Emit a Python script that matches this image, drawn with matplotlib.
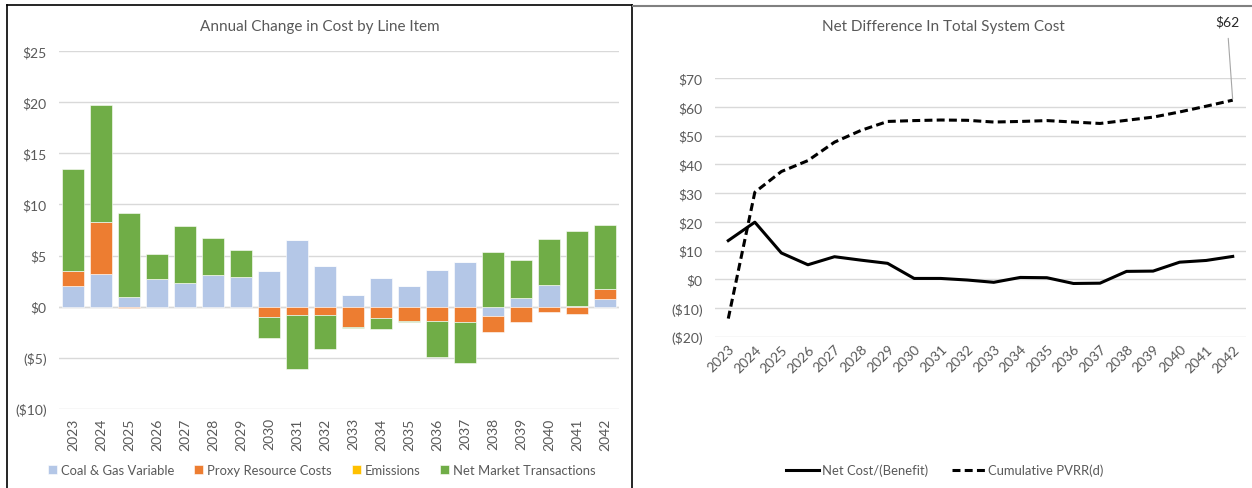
import numpy as np
import matplotlib.pyplot as plt
from matplotlib.lines import Line2D

plt.rcParams['font.family'] = ['Lato', 'DejaVu Sans']

years = [str(y) for y in range(2023, 2043)]

coal_gas = [2.02, 3.16, 0.91, 2.74, 2.35, 3.06, 2.87, 3.45, 6.48, 3.94,
            1.11, 2.83, 2.02, 3.62, 4.33, -0.91, 0.81, 2.15, 0.10, 0.72]
proxy = [1.50, 5.14, -0.15, 0.0, 0.0, 0.0, 0.0, -0.98, -0.78, -0.78,
         -2.02, -1.07, -1.43, -1.40, -1.50, -1.53, -1.50, -0.49, -0.75, 1.04]
emissions = [0.0] * 20
net_market = [9.90, 11.44, 8.21, 2.41, 5.53, 3.68, 2.67, -2.05, -5.28, -3.39,
              -0.10, -1.14, -0.07, -3.55, -3.97, 5.31, 3.72, 4.43, 7.33, 6.25]

net_cost = [13.5, 19.9, 9.2, 5.1, 7.9, 6.7, 5.6, 0.35, 0.35, -0.2,
            -1.0, 0.7, 0.6, -1.4, -1.3, 2.8, 2.9, 6.0, 6.6, 8.0]
cum_pvrr = [-13.6, 30.3, 37.5, 41.3, 47.7, 51.8, 54.9, 55.2, 55.4, 55.3,
            54.7, 54.9, 55.2, 54.7, 54.2, 55.3, 56.4, 58.2, 60.2, 62.3]

W, H = 1252, 489
TXT = '#595959'
GRID = '#D9D9D9'

def box(l, r, t, b):
    return [l / W, 1 - b / H, (r - l) / W, (b - t) / H]

def money(v, pos=None):
    v = int(round(v))
    return f'(${-v})' if v < 0 else f'${v}'

fig = plt.figure(figsize=(W / 100, H / 100), dpi=100)

# ---- left: stacked bars ----
ax1 = fig.add_axes(box(59, 619, 52, 410))
x = np.arange(len(years))
series = [('Coal & Gas Variable', coal_gas, '#B4C7E7'),
          ('Proxy Resource Costs', proxy, '#ED7D31'),
          ('Emissions', emissions, '#FFC000'),
          ('Net Market Transactions', net_market, '#70AD47')]
pos_base = np.zeros(len(years))
neg_base = np.zeros(len(years))
for name, vals, col in series:
    vals = np.array(vals)
    bottom = np.where(vals >= 0, pos_base, neg_base)
    ax1.bar(x, vals, 0.78, bottom=bottom, color=col, label=name,
            edgecolor='white', linewidth=0.4, zorder=3)
    pos_base = pos_base + np.clip(vals, 0, None)
    neg_base = neg_base + np.clip(vals, None, 0)

ax1.set_xlim(-0.5, len(years) - 0.5)
ax1.set_ylim(-10, 25)
ax1.set_yticks(range(-10, 26, 5))
ax1.yaxis.set_major_formatter(plt.FuncFormatter(money))
ax1.set_xticks(x)
ax1.set_xticklabels(years, rotation=90)
ax1.grid(axis='y', color=GRID, linewidth=1, zorder=0)
ax1.axhline(0, color=GRID, linewidth=1, zorder=1)
for s in ax1.spines.values():
    s.set_visible(False)
ax1.tick_params(length=0, colors=TXT, labelsize=10)
ax1.tick_params(axis='y', pad=9)
ax1.tick_params(axis='x', pad=6)
fig.text(320 / W, 1 - 27 / H, 'Annual Change in Cost by Line Item',
         ha='center', va='center', fontsize=11, color=TXT)
ax1.legend(loc='center', bbox_to_anchor=(322 / W, 1 - 471 / H),
           bbox_transform=fig.transFigure, ncol=4, frameon=False,
           fontsize=9.4, labelcolor=TXT, handlelength=0.7, handleheight=0.7,
           handletextpad=0.3, columnspacing=1.5)

# ---- right: lines ----
ax2 = fig.add_axes(box(715, 1246, 79, 338))
ax2.plot(x, net_cost, color='black', linewidth=2.2, label='Net Cost/(Benefit)', zorder=3)
ax2.plot(x, cum_pvrr, color='black', linewidth=2.2, linestyle=(0, (2.6, 1.4)),
         label='Cumulative PVRR(d)', zorder=3)
ax2.set_xlim(-0.5, len(years) - 0.5)
ax2.set_ylim(-20, 70)
ax2.set_yticks(range(-20, 71, 10))
ax2.yaxis.set_major_formatter(plt.FuncFormatter(money))
ax2.set_xticks(x)
ax2.set_xticklabels(years, rotation=45, ha='right', rotation_mode='anchor')
ax2.grid(axis='y', color=GRID, linewidth=1, zorder=0)
for s in ax2.spines.values():
    s.set_visible(False)
ax2.tick_params(length=0, colors=TXT, labelsize=10)
ax2.tick_params(axis='y', pad=9)
ax2.tick_params(axis='x', pad=4)
fig.text(943 / W, 1 - 27 / H, 'Net Difference In Total System Cost',
         ha='center', va='center', fontsize=11, color=TXT)
ax2.annotate(f'${cum_pvrr[-1]:.0f}', xy=(x[-1], cum_pvrr[-1]),
             xytext=(1227 / W, 1 - 22 / H), textcoords='figure fraction',
             ha='center', va='center', fontsize=10, color='#262626',
             arrowprops=dict(arrowstyle='-', color='#A6A6A6', linewidth=0.8,
                             shrinkA=6, shrinkB=1))
ax2.legend(loc='center', bbox_to_anchor=(945 / W, 1 - 471 / H),
           bbox_transform=fig.transFigure, ncol=2, frameon=False,
           fontsize=9.4, labelcolor=TXT, handlelength=2.48,
           handletextpad=0.3, columnspacing=1.8)

# ---- panel borders ----
fig.add_artist(Line2D([7 / W, 7 / W], [0, 1 - 6 / H], color='black', linewidth=1.2))
fig.add_artist(Line2D([7 / W, 632 / W], [1 - 6 / H, 1 - 6 / H], color='black', linewidth=1.2))
fig.add_artist(Line2D([632 / W, 632 / W], [0, 1 - 6 / H], color='black', linewidth=1.2))
fig.add_artist(Line2D([633 / W, 1], [1 - 6.5 / H, 1 - 6.5 / H], color='#808080', linewidth=1.5))

fig.savefig('out.png', dpi=100)
